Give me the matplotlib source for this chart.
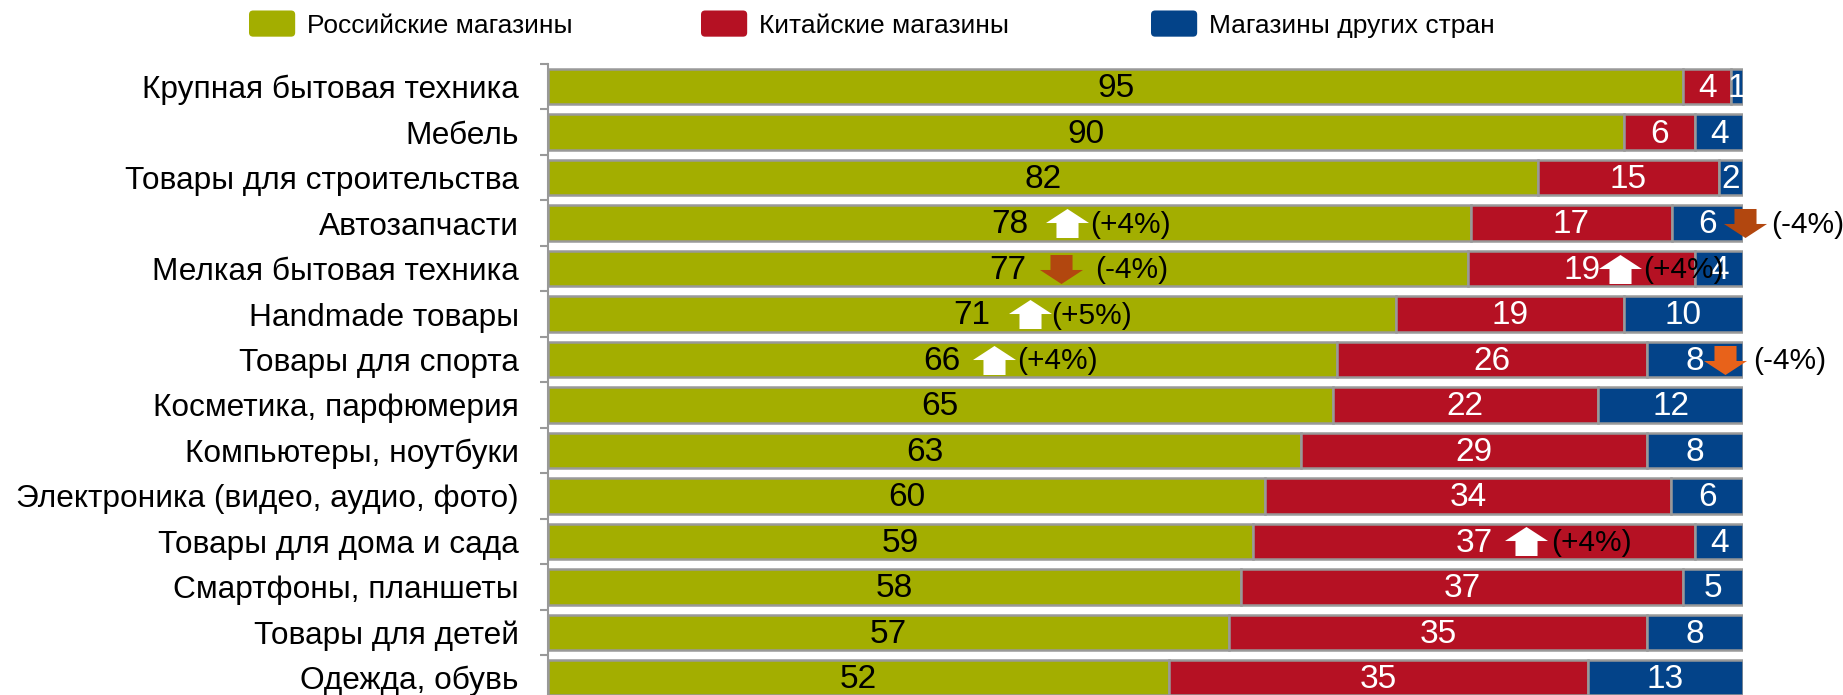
import matplotlib
matplotlib.use('Agg')
import matplotlib.pyplot as plt
import numpy as np
from matplotlib.path import Path
from matplotlib.patches import Patch, FancyBboxPatch
from matplotlib.legend_handler import HandlerPatch
from matplotlib.transforms import ScaledTranslation

plt.rcParams['font.family'] = ['Liberation Sans', 'DejaVu Sans']

# categories, top to bottom
categories = [
    'Крупная бытовая техника', 'Мебель', 'Товары для строительства', 'Автозапчасти',
    'Мелкая бытовая техника', 'Handmade товары', 'Товары для спорта',
    'Косметика, парфюмерия', 'Компьютеры, ноутбуки', 'Электроника (видео, аудио, фото)',
    'Товары для дома и сада', 'Смартфоны, планшеты', 'Товары для детей', 'Одежда, обувь',
]
russian = [95, 90, 82, 78, 77, 71, 66, 65, 63, 60, 59, 58, 57, 52]
chinese = [4, 6, 15, 17, 19, 19, 26, 22, 29, 34, 37, 37, 35, 35]
other = [1, 4, 2, 6, 4, 10, 8, 12, 8, 6, 4, 5, 8, 13]
series_names = ['Российские магазины', 'Китайские магазины', 'Магазины других стран']

# changes: (row, series index, direction, text)
changes = [
    (3, 0, 1, '(+4%)'), (3, 2, -1, '(-4%)'),
    (4, 0, -1, '(-4%)'), (4, 1, 1, '(+4%)'),
    (5, 0, 1, '(+5%)'),
    (6, 0, 1, '(+4%)'), (6, 2, -1, '(-4%)'),
    (10, 1, 1, '(+4%)'),
]
# horizontal layout of arrow / text relative to the bar label (pixels)
arrow_dx = [58, 37, 53, 38, 58, 52, 30, 52]
text_dx = [81, 64, 87, 61, 79, 75, 58, 77]
down_colors = ['#B2470F', '#B2470F', '#E8621A']
legend_x = [249, 701, 1151]

colors = ['#A3AE00', '#B51123', '#034389']
text_colors = ['black', 'white', 'white']
edge = '#999999'

fig = plt.figure(figsize=(18.43, 6.95), dpi=100)
ax = fig.add_axes([548 / 1843, -0.0079, (1743 - 548) / 1843, 0.9158])

values = np.array([russian, chinese, other], dtype=float)
shares = values / values.sum(axis=0) * 100
y = np.arange(len(categories))
left = np.zeros(len(categories))
centers = np.zeros_like(shares)
for i in range(3):
    ax.barh(y, shares[i], left=left, height=0.78, color=colors[i],
            edgecolor=edge, linewidth=1.8, zorder=2)
    centers[i] = left + shares[i] / 2
    for r in range(len(categories)):
        ax.text(centers[i][r], r + 0.04, str(int(values[i][r])), ha='center', va='center',
                fontsize=24, color=text_colors[i], zorder=4)
    left += shares[i]

# arrow markers
w, s, h, b = 0.5, 0.256, 0.337, 0.011
up_path = Path([(-s, -h), (s, -h), (s, b), (w, b), (0, h), (-w, b), (-s, b), (-s, -h)],
               [Path.MOVETO] + [Path.LINETO] * 6 + [Path.CLOSEPOLY])
down_path = Path([(-s, h), (s, h), (s, -b), (w, -b), (0, -h), (-w, -b), (-s, -b), (-s, h)],
                 [Path.MOVETO] + [Path.LINETO] * 6 + [Path.CLOSEPOLY])

k_down = 0
for n, (row, si, direction, txt) in enumerate(changes):
    x = centers[si][row]
    trans = ax.transData + ScaledTranslation(arrow_dx[n] / 100, 0, fig.dpi_scale_trans)
    if direction > 0:
        mk, col = up_path, 'white'
    else:
        mk, col = down_path, down_colors[k_down]
        k_down += 1
    ax.plot([x], [row], marker=mk, markersize=31, color=col, markeredgewidth=0,
            transform=trans, zorder=5, clip_on=False)
    ax.annotate(txt, xy=(x, row + 0.04), xytext=(text_dx[n] * 0.72, 0), textcoords='offset points',
                ha='left', va='center', fontsize=21.5, color='black', zorder=6,
                annotation_clip=False)

ax.set_xlim(0, 100)
ax.set_ylim(len(categories) - 0.5, -0.5)
ax.set_yticks(y)
ax.set_yticklabels(categories, fontsize=22.8)
ax.set_yticks(np.arange(len(categories) + 1) - 0.5, minor=True)
ax.tick_params(axis='y', which='major', length=0, pad=21)
ax.tick_params(axis='y', which='minor', length=6, width=1.5, color=edge, direction='out')
ax.set_xticks([])
for sp in ['top', 'right', 'bottom']:
    ax.spines[sp].set_visible(False)
ax.spines['left'].set_color(edge)
ax.spines['left'].set_linewidth(1.5)


class RoundHandler(HandlerPatch):
    def create_artists(self, legend, orig_handle, xdescent, ydescent, width, height,
                       fontsize, trans):
        r = 3
        p = FancyBboxPatch((-xdescent + r, -ydescent + r), width - 2 * r, height - 2 * r,
                           boxstyle='round,pad=%g' % r, fc=orig_handle.get_facecolor(),
                           ec='none', transform=trans)
        return [p]


# one legend per series, spread across the top
for c, name, lx in zip(colors, series_names, legend_x):
    leg = fig.legend([Patch(facecolor=c)], [name], loc='center left',
                     bbox_to_anchor=(lx / 1843, 1 - 24 / 695), frameon=False, fontsize=19,
                     handlelength=1.75, handleheight=1.15, handletextpad=0.45,
                     borderpad=0, borderaxespad=0, handler_map={Patch: RoundHandler()})

fig.savefig('out.png', dpi=100)
